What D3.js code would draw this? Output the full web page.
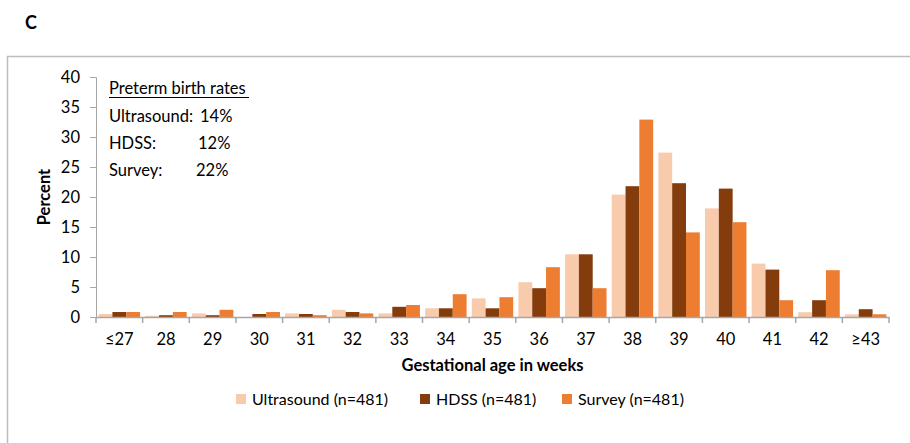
<!DOCTYPE html>
<html>
<head>
<meta charset="utf-8">
<script src="https://cdn.jsdelivr.net/npm/d3@7"></script>
<style>
  body { margin: 0; background: #fff; }
  text { font-family: Lato, "Open Sans", sans-serif; fill: #000; }
</style>
</head>
<body>
<div id="chart-area"></div>
<script>
// data
var weeks = ["≤27", "28", "29", "30", "31", "32", "33", "34", "35", "36", "37", "38", "39", "40", "41", "42", "≥43"];
var ultrasound = [0.5, 0.2, 0.6, 0, 0.6, 1.2, 0.6, 1.45, 3.1, 5.8, 10.45, 20.4, 27.4, 18.1, 8.9, 0.8, 0.45];
var hdss       = [0.83, 0.3, 0.3, 0.5, 0.5, 0.83, 1.7, 1.45, 1.45, 4.8, 10.45, 21.8, 22.3, 21.4, 7.9, 2.8, 1.3];
var survey     = [0.83, 0.83, 1.2, 0.83, 0.3, 0.6, 2.0, 3.8, 3.3, 8.3, 4.8, 32.9, 14.1, 15.8, 2.8, 7.8, 0.45];
var seriesNames = ["Ultrasound (n=481)", "HDSS (n=481)", "Survey (n=481)"];
var colors = ["#f8cbad", "#843c0c", "#ed7d31"];
var yTicks = [0, 5, 10, 15, 20, 25, 30, 35, 40];
var notes = [["Ultrasound:", "14%"], ["HDSS:", "12%"], ["Survey:", "22%"]];

var W = 910, H = 443;
var margin = {top: 77, left: 96, right: 21, bottom: 126};
var width = W - margin.left - margin.right;
var height = H - margin.top - margin.bottom;

var svg = d3.select("#chart-area").append("svg")
  .attr("width", W)
  .attr("height", H)

// panel letter
svg.append("text")
  .attr("x", 25).attr("y", 29)
  .attr("font-size", "18px").attr("font-weight", "bold")
  .text("C")

// frame
svg.append("rect")
  .attr("x", 7.5).attr("y", 56.5)
  .attr("width", 920).attr("height", 420)
  .attr("fill", "none").attr("stroke", "#bdbdbd").attr("stroke-width", 1.5)

var g = svg.append("g")
  .attr("transform", "translate(" + margin.left + ", " + margin.top + ")")

var x = d3.scaleBand()
  .domain(weeks)
  .range([0, width])
  .paddingInner(0)
  .paddingOuter(0)

var xs = d3.scaleBand()
  .domain(d3.range(3))
  .range([2.6, x.bandwidth() - 2.6])

var y = d3.scaleLinear()
  .domain([0, 40])
  .range([height, 0])

// axes
var yAxisCall = d3.axisLeft(y).tickValues(yTicks).tickSize(6).tickPadding(10)
var yAx = g.append("g").attr("class", "y axis").call(yAxisCall)
yAx.select(".domain").attr("stroke", "#a6a6a6")
yAx.selectAll(".tick line").attr("stroke", "#a6a6a6")
yAx.selectAll(".tick text").attr("font-size", "16.5px").attr("font-family", "Lato, sans-serif")

var rows = weeks.map((w, i) => ({week: w, vals: [ultrasound[i], hdss[i], survey[i]]}))

var groups = g.selectAll("g.grp").data(rows).enter().append("g")
  .attr("class", "grp")
  .attr("transform", d => "translate(" + x(d.week) + ",0)")

groups.selectAll("rect").data(d => d.vals).enter().append("rect")
  .attr("x", (d, i) => xs(i))
  .attr("width", xs.bandwidth())
  .attr("y", d => y(d))
  .attr("height", d => height - y(d))
  .attr("fill", (d, i) => colors[i])

var xAxisCall = d3.axisBottom(x).tickSize(0).tickPadding(16)
var xAx = g.append("g").attr("class", "x axis")
  .attr("transform", "translate(0, " + height + ")")
  .call(xAxisCall)
xAx.select(".domain").attr("stroke", "#a6a6a6").attr("stroke-width", 1.5)
xAx.selectAll(".tick text").attr("font-size", "16.5px").attr("font-family", "Lato, sans-serif")

// category boundary ticks
g.selectAll("line.bt").data(weeks.concat([null])).enter().append("line")
  .attr("class", "bt")
  .attr("x1", (d, i) => i * x.bandwidth())
  .attr("x2", (d, i) => i * x.bandwidth())
  .attr("y1", height).attr("y2", height + 6)
  .attr("stroke", "#a6a6a6").attr("stroke-width", 1.5)

// axis labels
g.append("text")
  .attr("x", width / 2 + 0).attr("y", height + 54)
  .attr("font-size", "16.5px").attr("font-weight", "bold")
  .attr("text-anchor", "middle")
  .text("Gestational age in weeks")

g.append("text")
  .attr("x", -(height / 2)).attr("y", -46)
  .attr("font-size", "16.5px").attr("font-weight", "bold")
  .attr("text-anchor", "middle")
  .attr("transform", "rotate(-90)")
  .text("Percent")

// annotation box
var ann = svg.append("g").attr("transform", "translate(109, 0)")
ann.append("text").attr("x", 0).attr("y", 94)
  .attr("font-size", "16.5px")
  .text("Preterm birth rates")
ann.append("line").attr("x1", 0).attr("x2", 140).attr("y1", 97.5).attr("y2", 97.5)
  .attr("stroke", "#000").attr("stroke-width", 1)
ann.selectAll("text.lab").data(notes).enter().append("text")
  .attr("class", "lab")
  .attr("x", 0).attr("y", (d, i) => 121.5 + i * 27.3)
  .attr("font-size", "16.5px")
  .text(d => d[0])
ann.selectAll("text.pct").data(notes).enter().append("text")
  .attr("class", "pct")
  .attr("x", (d, i) => [91, 89, 87][i]).attr("y", (d, i) => 121.5 + i * 27.3)
  .attr("font-size", "16.5px")
  .text(d => d[1])

// legend
var legX = [236, 420, 562];
var leg = svg.selectAll("g.leg").data(seriesNames).enter().append("g")
  .attr("class", "leg")
  .attr("transform", (d, i) => "translate(" + legX[i] + ", 394)")
leg.append("rect").attr("width", 10).attr("height", 10).attr("fill", (d, i) => colors[i])
leg.append("text").attr("x", 16).attr("y", 10.5)
  .attr("font-size", "16px")
  .text(d => d)
</script>
</body>
</html>
